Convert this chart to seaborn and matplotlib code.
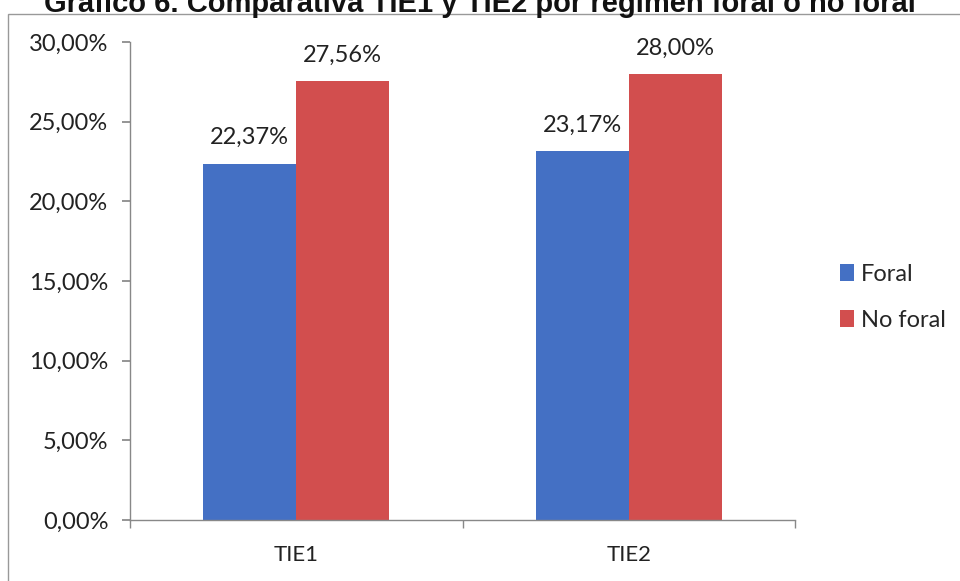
import matplotlib
matplotlib.use("Agg")
import matplotlib.pyplot as plt
import seaborn as sns
import pandas as pd
from matplotlib.patches import Rectangle

categories = ["TIE1", "TIE2"]
series = ["Foral", "No foral"]
foral = [22.37, 23.17]
no_foral = [27.56, 28.00]
yticks = [0, 5, 10, 15, 20, 25, 30]
title = "Gráfico 6. Comparativa TIE1 y TIE2 por régimen foral o no foral"

df = pd.DataFrame({
    "cat": categories * 2,
    "serie": [series[0]] * 2 + [series[1]] * 2,
    "val": foral + no_foral,
})

sns.set_theme(style="white")
plt.rcParams["font.family"] = ["Lato", "DejaVu Sans"]

fig = plt.figure(figsize=(9.6, 5.81), dpi=100)
ax = fig.add_axes([130 / 960, 61 / 581, 665 / 960, 478 / 581])

colors = ["#4470C4", "#D24E4E"]
sns.barplot(data=df, x="cat", y="val", hue="serie", hue_order=series,
            order=categories, palette=colors, width=0.56, ax=ax,
            saturation=1, linewidth=0)

for cont in ax.containers:
    labels = [f"{v:.2f}%".replace(".", ",") for v in cont.datavalues]
    ax.bar_label(cont, labels=labels, padding=11, fontsize=17, color="#222222")

ax.set_ylim(0, 30)
ax.set_xlim(-0.5, 1.5)
ax.set_yticks(yticks)
ax.set_yticklabels([f"{v:.2f}%".replace(".", ",") for v in yticks], fontsize=17, color="#222222")
ax.set_xticks([0, 1])
ax.set_xticklabels(categories, fontsize=16, color="#222222")
ax.set_xlabel("")
ax.set_ylabel("")
for s in ["top", "right"]:
    ax.spines[s].set_visible(False)
for s in ["left", "bottom"]:
    ax.spines[s].set_color("#888888")
    ax.spines[s].set_linewidth(1)
ax.tick_params(axis="y", left=True, length=5.5, color="#888888", pad=10)
ax.tick_params(axis="x", bottom=False, pad=12)
# category boundary ticks
ax.set_xticks([-0.5, 0.5, 1.5], minor=True)
ax.tick_params(axis="x", which="minor", bottom=True, length=5.5, color="#888888")

leg = ax.legend(loc="center left", bbox_to_anchor=(1.035, 0.466), frameon=False,
                fontsize=17, handlelength=0.6, handleheight=0.75,
                handletextpad=0.3, labelspacing=1.05)

fig.patches.append(Rectangle((8 / 960, -0.05), 1.1, 1 - 14 / 581 + 0.05,
                             transform=fig.transFigure, fill=False,
                             edgecolor="#999999", linewidth=1))

fig.text(0.5, 1 - 12 / 581, title, ha="center", va="baseline",
         fontsize=21, fontweight="bold", family=["Liberation Sans", "DejaVu Sans"],
         color="#111111")

fig.savefig("out.png", dpi=100)
